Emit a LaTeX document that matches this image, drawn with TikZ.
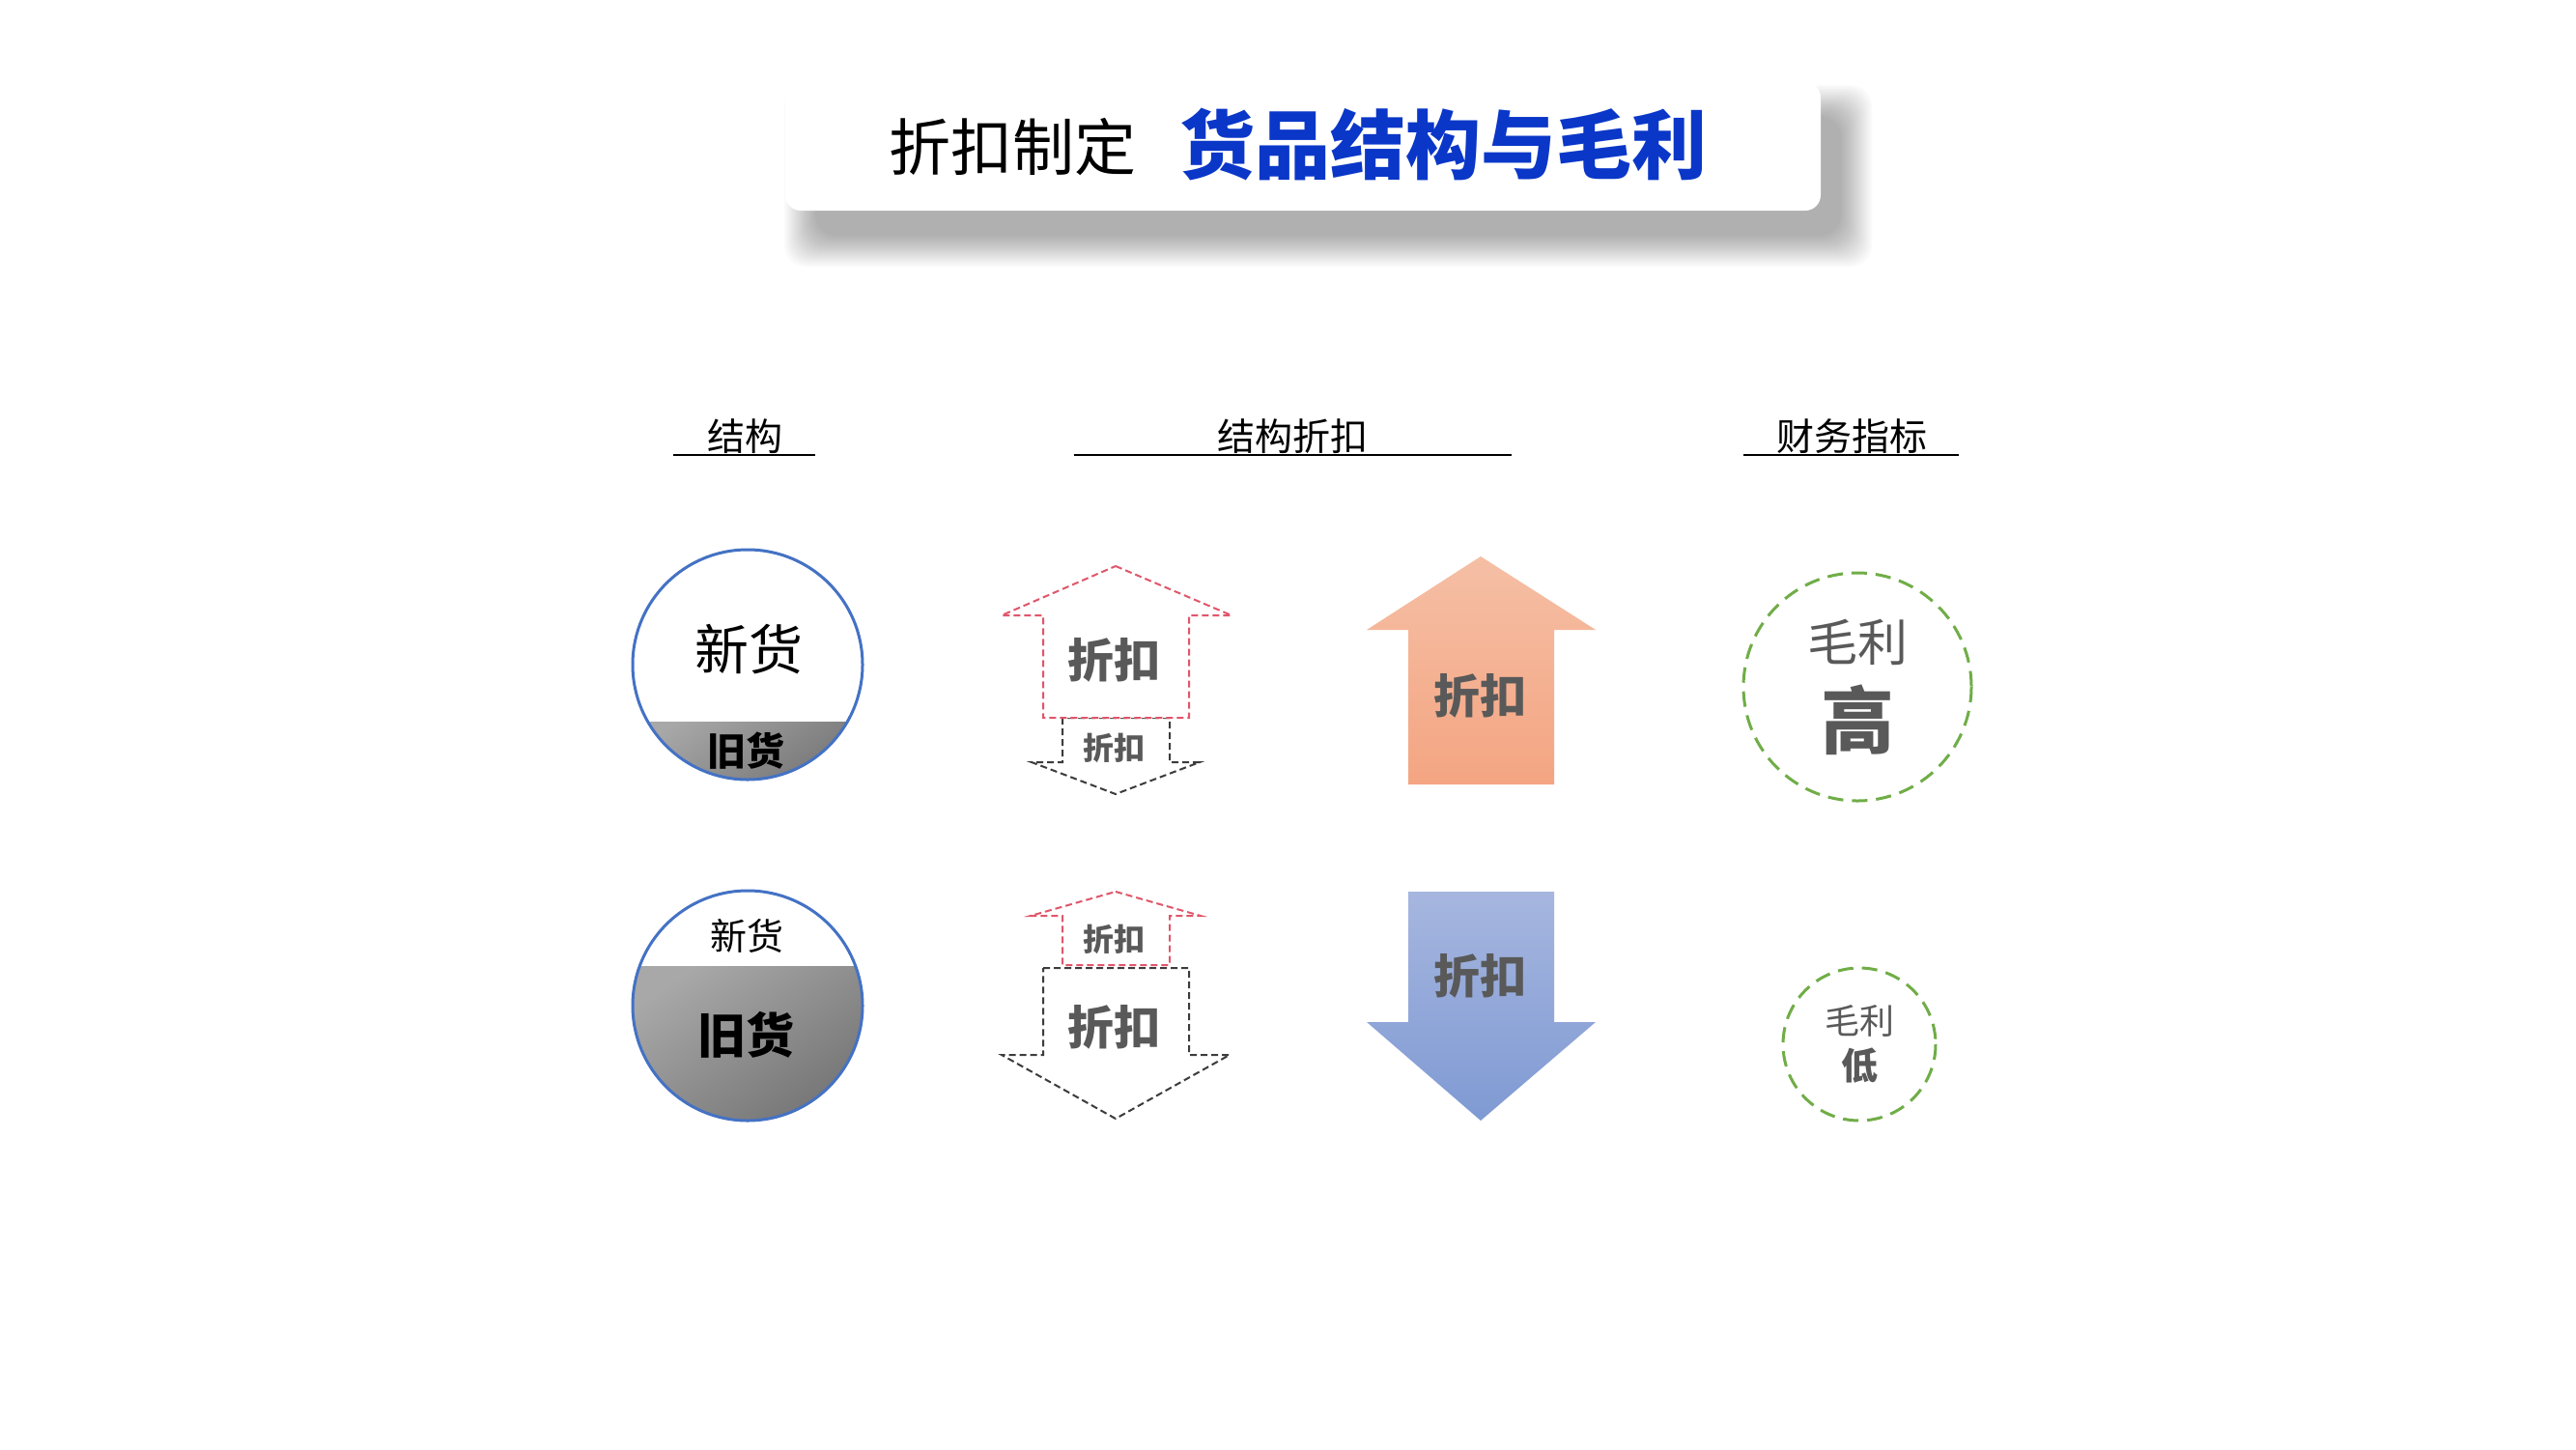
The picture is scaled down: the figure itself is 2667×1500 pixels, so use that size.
\documentclass[tikz,border=0pt]{standalone}
\usepackage{fontspec}
\setmainfont{Noto Sans CJK SC}
\definecolor{titleblue}{HTML}{0A37C8}
\definecolor{txtgray}{HTML}{595959}
\definecolor{cblue}{HTML}{4472C4}
\definecolor{cgreen}{HTML}{70AD47}
\definecolor{dred}{HTML}{E0566A}
\definecolor{dblack}{HTML}{3C3C3C}
\definecolor{otop}{HTML}{F5BFA5}
\definecolor{obot}{HTML}{F4A582}
\definecolor{btop}{HTML}{A6B6DF}
\definecolor{bbot}{HTML}{7F9AD3}
\definecolor{gA}{HTML}{A8A8A8}
\definecolor{gB}{HTML}{747474}
\tikzset{
 fs/.style={font=\fontsize{#1}{#1}\selectfont},
 fsb/.style={font=\fontsize{#1}{#1}\selectfont\bfseries},
 txt/.style={inner sep=0pt, anchor=center},
 reddash/.style={draw=dred, line width=2pt, dash pattern=on 7pt off 4pt, fill=white},
 blkdash/.style={draw=dblack, line width=2pt, dash pattern=on 7pt off 4pt, fill=white},
 ring/.style={draw=cblue, line width=3pt},
 gring/.style={draw=cgreen, line width=3pt, dash pattern=on 16pt off 9pt},
 hline/.style={line width=2.5pt},
}
\begin{document}
\begin{tikzpicture}[x=1pt,y=-1pt]
\useasboundingbox[fill=white] (0,0) rectangle (2667,1500);
% title shadow
\foreach \i in {0,...,16}{
  \fill[black,opacity=0.02,rounded corners=22pt] (812+\i*2,88+\i*2) rectangle (1938-\i*2,276-\i*2);
}
\fill[white,rounded corners=16pt] (813,85) rectangle (1885,218);
\node[txt,fs=64] (t1) at (1048,152) {折扣制定};
\node[txt,fsb=78,text=titleblue] (t2) at (1494,150) {货品结构与毛利};
% headers
\node[txt,fs=39] (h1) at (771,452) {结构};
\node[txt,fs=39] (h2) at (1338,452) {结构折扣};
\node[txt,fs=39] (h3) at (1917,452) {财务指标};
\draw[hline] (697,471) -- (844,471);
\draw[hline] (1112,471) -- (1565,471);
\draw[hline] (1805,471) -- (2028,471);
% circle 1
\begin{scope}
 \clip (774,688) circle[radius=119];
 \shade[shading=axis,top color=gA,bottom color=gB,shading angle=35] (650,747) rectangle (900,810);
\end{scope}
\draw[ring] (774,688) circle[radius=119];
\node[txt,fs=56] (n1) at (775,672) {新货};
\node[txt,fsb=40] (o1) at (772,777) {旧货};
% circle 2
\begin{scope}
 \clip (774,1041) circle[radius=119];
 \shade[shading=axis,top color=gA,bottom color=gB,shading angle=35] (650,1000) rectangle (900,1165);
\end{scope}
\draw[ring] (774,1041) circle[radius=119];
\node[txt,fs=38] (n2) at (773,969) {新货};
\node[txt,fsb=50] (o2) at (772,1071) {旧货};
% dashed arrows A
\draw[blkdash] (1100,743) -- (1100,789) -- (1068,789) -- (1155,822) -- (1242,789) -- (1211,789) -- (1211,743) -- cycle;
\draw[reddash] (1155,586) -- (1275,637) -- (1231,637) -- (1231,743) -- (1080,743) -- (1080,637) -- (1037,637) -- cycle;
\node[txt,fsb=48,text=txtgray] (a1) at (1153,683) {折扣};
\node[txt,fsb=32,text=txtgray] (a2) at (1153,774) {折扣};
% dashed arrows B
\draw[reddash] (1155,923) -- (1243,948) -- (1211,948) -- (1211,999) -- (1100,999) -- (1100,948) -- (1067,948) -- cycle;
\draw[blkdash] (1080,1002) -- (1231,1002) -- (1231,1092) -- (1273,1092) -- (1155,1158) -- (1037,1092) -- (1080,1092) -- cycle;
\node[txt,fsb=32,text=txtgray] (b1) at (1153,972) {折扣};
\node[txt,fsb=48,text=txtgray] (b2) at (1153,1063) {折扣};
% solid arrows
\shade[top color=otop,bottom color=obot] (1533,576) -- (1652,652) -- (1609,652) -- (1609,812) -- (1458,812) -- (1458,652) -- (1415,652) -- cycle;
\node[txt,fsb=48,text=txtgray] (c1) at (1532,720) {折扣};
\shade[top color=btop,bottom color=bbot] (1458,923) -- (1609,923) -- (1609,1058) -- (1652,1058) -- (1533,1160) -- (1415,1058) -- (1458,1058) -- cycle;
\node[txt,fsb=48,text=txtgray] (c2) at (1532,1010) {折扣};
% green circles
\draw[gring] (1923,711) circle[radius=118];
\node[txt,fs=52,text=txtgray] (m1) at (1923,665) {毛利};
\node[txt,fsb=76,text=txtgray] (g1) at (1923,745) {高};
\draw[gring] (1925,1081) circle[radius=79];
\node[txt,fs=36,text=txtgray] (m2) at (1925,1057) {毛利};
\node[txt,fsb=38,text=txtgray] (g2) at (1925,1103) {低};
\end{tikzpicture}
\end{document}
